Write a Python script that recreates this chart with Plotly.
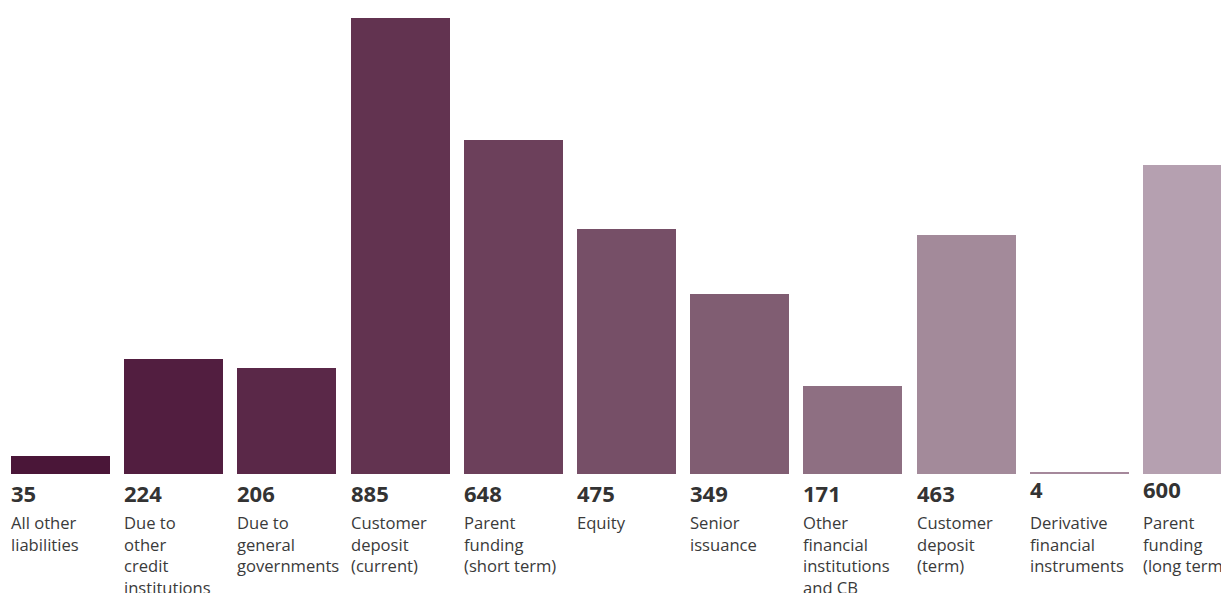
import plotly.graph_objects as go

categories = [
    "All other<br>liabilities",
    "Due to<br>other<br>credit<br>institutions",
    "Due to<br>general<br>governments",
    "Customer<br>deposit<br>(current)",
    "Parent<br>funding<br>(short term)",
    "Equity",
    "Senior<br>issuance",
    "Other<br>financial<br>institutions<br>and CB",
    "Customer<br>deposit<br>(term)",
    "Derivative<br>financial<br>instruments",
    "Parent<br>funding<br>(long term)",
]
values = [35, 224, 206, 885, 648, 475, 349, 171, 463, 4, 600]
colors = ["#4a1638", "#521e40", "#5a2848", "#623350", "#6c405b", "#764f67",
          "#805d72", "#8e6f82", "#a38a9a", "#a5889b", "#b5a0b0"]

x = list(range(len(values)))
bar_w = 0.875
# the last two value labels sit slightly higher in the original layout
value_lift = [0] * 9 + [4, 4]

fig = go.Figure(go.Bar(
    x=x, y=values, width=bar_w,
    marker=dict(color=colors, line=dict(width=0)),
    hoverinfo="skip",
))

FONT = "'Open Sans', Lato, sans-serif"
for i, (c, v) in enumerate(zip(categories, values)):
    fig.add_annotation(
        x=i - bar_w / 2, xref="x", xanchor="left", xshift=-2,
        y=0, yref="paper", yanchor="middle", yshift=-19 + value_lift[i],
        text=f"<b>{v}</b>", showarrow=False,
        font=dict(family=FONT, size=22, color="#333333"), align="left",
    )
    fig.add_annotation(
        x=i - bar_w / 2, xref="x", xanchor="left", xshift=-2,
        y=0, yref="paper", yanchor="top", yshift=-35,
        text=c, showarrow=False,
        font=dict(family=FONT, size=16.6, color="#3a3a3a"), align="left",
    )

px_per_unit = 113.2
x0 = -52.5 / px_per_unit
fig.update_layout(
    width=1229, height=593,
    margin=dict(l=0, r=0, t=0, b=127),
    paper_bgcolor="white", plot_bgcolor="white",
    showlegend=False,
    bargap=0,
    xaxis=dict(range=[x0, x0 + 1229 / px_per_unit], visible=False, fixedrange=True),
    yaxis=dict(range=[0, 466 / 0.5153], visible=False, fixedrange=True),
)

fig.write_html("out.html")
